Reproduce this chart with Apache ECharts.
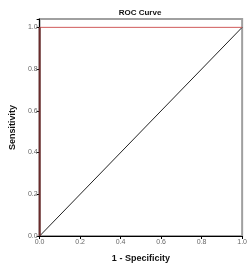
<!DOCTYPE html>
<html>
<head>
<meta charset="utf-8">
<script src="https://cdn.jsdelivr.net/npm/echarts@6/dist/echarts.min.js"></script>
<style>
  html, body { margin: 0; padding: 0; background: #fff; }
  #chart { width: 250px; height: 272px; }
</style>
</head>
<body>
<div id="chart"></div>
<script>
// ROC curve points (1 - specificity, sensitivity)
var rocFpr = [0, 0, 1]
var rocTpr = [0, 1, 1]
// reference diagonal
var refX = [0, 1]
var refY = [0, 1]
var tickLabels = ['0.0', '0.2', '0.4', '0.6', '0.8', '1.0']

var rocData = rocFpr.map(function (x, i) { return [x, rocTpr[i]] })
var refData = refX.map(function (x, i) { return [x, refY[i]] })

var chart = echarts.init(document.getElementById('chart'))
chart.setOption({
  animation: false,
  title: {
    text: 'ROC Curve',
    left: 140,
    textAlign: 'center',
    top: 9,
    padding: 0,
    textStyle: { fontFamily: 'Liberation Sans', fontSize: 8, fontWeight: 'bold', color: '#111' }
  },
  grid: { left: 36, right: 5, top: 19, bottom: 36, show: true, borderColor: '#a0a0a0', borderWidth: 2 },
  xAxis: {
    type: 'value',
    min: 0,
    max: 1,
    interval: 0.2,
    name: '1 - Specificity',
    nameLocation: 'middle',
    nameGap: 18,
    nameTextStyle: { fontFamily: 'Liberation Sans', fontSize: 9, fontWeight: 'bold', color: '#111' },
    axisLine: { onZero: false, lineStyle: { color: '#000', width: 1 } },
    axisTick: { show: true, length: 3, lineStyle: { color: '#000' } },
    axisLabel: {
      fontFamily: 'Liberation Sans', fontSize: 7, color: '#666', margin: 3,
      formatter: function (v) { return tickLabels[Math.round(v * 5)] }
    },
    splitLine: { show: false }
  },
  yAxis: {
    type: 'value',
    min: 0,
    max: 1.04,
    interval: 0.2,
    name: 'Sensitivity',
    nameLocation: 'middle',
    nameGap: 12,
    nameTextStyle: { fontFamily: 'Liberation Sans', fontSize: 9, fontWeight: 'bold', color: '#111' },
    axisLine: { onZero: false, lineStyle: { color: '#000', width: 1 } },
    axisTick: { show: true, length: 3, lineStyle: { color: '#000' } },
    axisLabel: {
      fontFamily: 'Liberation Sans', fontSize: 7, color: '#666', margin: 2,
      formatter: function (v) {
        var i = Math.round(v * 5)
        return Math.abs(v - i / 5) < 1e-6 ? tickLabels[i] : ''
      }
    },
    splitLine: { show: false }
  },
  series: [
    {
      type: 'line',
      data: refData,
      symbol: 'none',
      lineStyle: { color: '#222', width: 1 },
      z: 3
    },
    {
      type: 'line',
      data: rocData,
      symbol: 'none',
      lineStyle: { color: '#d05a5a', width: 1 },
      z: 4
    },
    {
      type: 'line',
      data: rocData.slice(0, 2),
      symbol: 'none',
      lineStyle: { color: '#6a2c2c', width: 2 },
      z: 5
    }
  ]
})
</script>
</body>
</html>
